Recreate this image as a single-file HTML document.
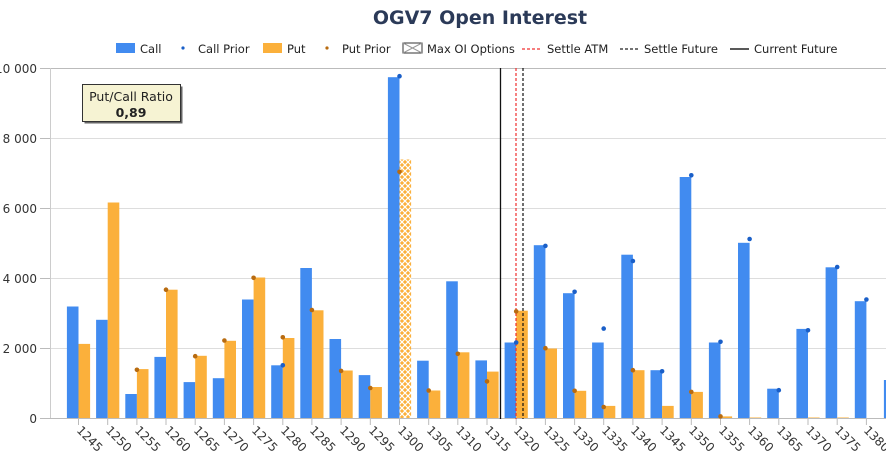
<!DOCTYPE html>
<html><head><meta charset="utf-8"><style>
html,body{margin:0;padding:0;background:#fff;}
svg{display:block;font-family:"DejaVu Sans","Liberation Sans",sans-serif;}
</style></head><body>
<svg width="886" height="460" viewBox="0 0 886 460" xmlns="http://www.w3.org/2000/svg">
<defs>
<pattern id="hatch" width="6" height="6" patternUnits="userSpaceOnUse">
<rect width="6" height="6" fill="#fbb03b"/>
<path d="M0,0L6,6M6,0L0,6" stroke="#fff" stroke-width="1.2"/>
</pattern>
</defs>
<text x="480" y="24" text-anchor="middle" font-size="19" font-weight="bold" fill="#2b3a58">OGV7 Open Interest</text>
<g font-size="11.5" fill="#222">
<rect x="116" y="43" width="19" height="10" fill="#418bf0"/><text x="140" y="53">Call</text>
<circle cx="183" cy="48" r="1.6" fill="#1a5fc8"/><text x="198" y="53">Call Prior</text>
<rect x="263" y="43" width="19" height="10" fill="#fbb03b"/><text x="287" y="53">Put</text>
<circle cx="327" cy="48" r="1.6" fill="#b86b10"/><text x="342" y="53">Put Prior</text>
<rect x="403" y="43" width="19" height="10" fill="#fff" stroke="#333"/><path d="M403,43L422,53M422,43L403,53" stroke="#999"/><text x="427" y="53">Max OI Options</text>
<line x1="522" y1="49" x2="541" y2="49" stroke="#f03030" stroke-dasharray="3,2" stroke-width="1.2"/><text x="547" y="53">Settle ATM</text>
<line x1="620" y1="49" x2="638" y2="49" stroke="#222" stroke-dasharray="3,2" stroke-width="1.2"/><text x="644" y="53">Settle Future</text>
<line x1="730" y1="49" x2="749" y2="49" stroke="#222" stroke-width="1.4"/><text x="754" y="53">Current Future</text>
</g>
<g stroke="#ddd" stroke-width="1">
<line x1="50" y1="68.5" x2="886" y2="68.5" stroke="#bbb"/>
<line x1="50" y1="138.5" x2="886" y2="138.5"/>
<line x1="50" y1="208.5" x2="886" y2="208.5"/>
<line x1="50" y1="278.5" x2="886" y2="278.5"/>
<line x1="50" y1="348.5" x2="886" y2="348.5"/>
</g>
<line x1="50.5" y1="68" x2="50.5" y2="419" stroke="#ccc"/>
<g stroke="#bbb"><line x1="40" y1="68.5" x2="50" y2="68.5"/><line x1="40" y1="138.5" x2="50" y2="138.5"/><line x1="40" y1="208.5" x2="50" y2="208.5"/><line x1="40" y1="278.5" x2="50" y2="278.5"/><line x1="40" y1="348.5" x2="50" y2="348.5"/><line x1="40" y1="418.5" x2="50" y2="418.5"/></g>
<g font-size="12" fill="#333" text-anchor="end">
<text x="37" y="73">10 000</text><text x="37" y="143">8 000</text><text x="37" y="213">6 000</text><text x="37" y="283">4 000</text><text x="37" y="353">2 000</text><text x="37" y="423">0</text>
</g>
<g fill="#418bf0">
<rect x="66.9" y="306.5" width="11.6" height="112"/>
<rect x="96.1" y="319.8" width="11.6" height="98.7"/>
<rect x="125.3" y="394" width="11.6" height="24.5"/>
<rect x="154.4" y="356.9" width="11.6" height="61.6"/>
<rect x="183.6" y="382.1" width="11.6" height="36.4"/>
<rect x="212.8" y="378.2" width="11.6" height="40.3"/>
<rect x="242" y="299.5" width="11.6" height="119"/>
<rect x="271.2" y="365.3" width="11.6" height="53.2"/>
<rect x="300.3" y="268" width="11.6" height="150.5"/>
<rect x="329.5" y="339" width="11.6" height="79.5"/>
<rect x="358.7" y="375.1" width="11.6" height="43.4"/>
<rect x="387.9" y="77.2" width="11.6" height="341.3"/>
<rect x="417.1" y="360.7" width="11.6" height="57.8"/>
<rect x="446.2" y="281.3" width="11.6" height="137.2"/>
<rect x="475.4" y="360.4" width="11.6" height="58.1"/>
<rect x="504.6" y="342.5" width="11.6" height="76"/>
<rect x="533.8" y="245.2" width="11.6" height="173.3"/>
<rect x="563" y="293.2" width="11.6" height="125.3"/>
<rect x="592.1" y="342.5" width="11.6" height="76"/>
<rect x="621.3" y="254.7" width="11.6" height="163.8"/>
<rect x="650.5" y="370.2" width="11.6" height="48.3"/>
<rect x="679.7" y="177" width="11.6" height="241.5"/>
<rect x="708.9" y="342.5" width="11.6" height="76"/>
<rect x="738" y="242.8" width="11.6" height="175.7"/>
<rect x="767.2" y="388.7" width="11.6" height="29.8"/>
<rect x="796.4" y="328.9" width="11.6" height="89.6"/>
<rect x="825.6" y="267.3" width="11.6" height="151.2"/>
<rect x="854.8" y="301.2" width="11.6" height="117.3"/>
<rect x="883.9" y="380" width="11.6" height="38.5"/>
</g>
<g fill="#fbb03b">
<rect x="78.5" y="343.9" width="11.6" height="74.6"/>
<rect x="107.7" y="202.5" width="11.6" height="216"/>
<rect x="136.9" y="369.1" width="11.6" height="49.4"/>
<rect x="166" y="289.7" width="11.6" height="128.8"/>
<rect x="195.2" y="355.8" width="11.6" height="62.7"/>
<rect x="224.4" y="340.8" width="11.6" height="77.7"/>
<rect x="253.6" y="277.5" width="11.6" height="141"/>
<rect x="282.8" y="338" width="11.6" height="80.5"/>
<rect x="311.9" y="310.3" width="11.6" height="108.2"/>
<rect x="341.1" y="370.5" width="11.6" height="48"/>
<rect x="370.3" y="387" width="11.6" height="31.5"/>
<rect x="399.5" y="159.5" width="11.6" height="259" fill="url(#hatch)"/>
<rect x="428.7" y="390.5" width="11.6" height="28"/>
<rect x="457.8" y="352.3" width="11.6" height="66.2"/>
<rect x="487" y="371.6" width="11.6" height="46.9"/>
<rect x="516.2" y="310.7" width="11.6" height="107.8"/>
<rect x="545.4" y="348.5" width="11.6" height="70"/>
<rect x="574.6" y="390.8" width="11.6" height="27.7"/>
<rect x="603.7" y="405.9" width="11.6" height="12.6"/>
<rect x="632.9" y="370.2" width="11.6" height="48.3"/>
<rect x="662.1" y="405.9" width="11.6" height="12.6"/>
<rect x="691.3" y="391.9" width="11.6" height="26.6"/>
<rect x="720.5" y="416.4" width="11.6" height="2.1"/>
<rect x="749.6" y="417.5" width="11.6" height="1"/>
<rect x="808" y="417.5" width="11.6" height="1"/>
<rect x="837.2" y="417.5" width="11.6" height="1"/>
</g>
<line x1="50" y1="418.5" x2="886" y2="418.5" stroke="#bbb"/>
<g stroke="#bbb">
<line x1="78.5" y1="419" x2="78.5" y2="425"/><line x1="107.7" y1="419" x2="107.7" y2="425"/><line x1="136.9" y1="419" x2="136.9" y2="425"/><line x1="166" y1="419" x2="166" y2="425"/><line x1="195.2" y1="419" x2="195.2" y2="425"/><line x1="224.4" y1="419" x2="224.4" y2="425"/><line x1="253.6" y1="419" x2="253.6" y2="425"/><line x1="282.8" y1="419" x2="282.8" y2="425"/><line x1="311.9" y1="419" x2="311.9" y2="425"/><line x1="341.1" y1="419" x2="341.1" y2="425"/><line x1="370.3" y1="419" x2="370.3" y2="425"/><line x1="399.5" y1="419" x2="399.5" y2="425"/><line x1="428.7" y1="419" x2="428.7" y2="425"/><line x1="457.8" y1="419" x2="457.8" y2="425"/><line x1="487" y1="419" x2="487" y2="425"/><line x1="516.2" y1="419" x2="516.2" y2="425"/><line x1="545.4" y1="419" x2="545.4" y2="425"/><line x1="574.6" y1="419" x2="574.6" y2="425"/><line x1="603.7" y1="419" x2="603.7" y2="425"/><line x1="632.9" y1="419" x2="632.9" y2="425"/><line x1="662.1" y1="419" x2="662.1" y2="425"/><line x1="691.3" y1="419" x2="691.3" y2="425"/><line x1="720.5" y1="419" x2="720.5" y2="425"/><line x1="749.6" y1="419" x2="749.6" y2="425"/><line x1="778.8" y1="419" x2="778.8" y2="425"/><line x1="808" y1="419" x2="808" y2="425"/><line x1="837.2" y1="419" x2="837.2" y2="425"/><line x1="866.4" y1="419" x2="866.4" y2="425"/>
</g>
<line x1="500.5" y1="68" x2="500.5" y2="419" stroke="#111" stroke-width="1.3"/>
<line x1="516" y1="68" x2="516" y2="419" stroke="#f03030" stroke-dasharray="3,2" stroke-width="1.2"/>
<line x1="523" y1="68" x2="523" y2="419" stroke="#111" stroke-dasharray="3,2" stroke-width="1.2"/>
<g fill="#1a5fc8">
<circle cx="282.8" cy="365.3" r="2.3"/><circle cx="399.5" cy="76.2" r="2.3"/><circle cx="516.2" cy="342.5" r="2.3"/><circle cx="545.4" cy="245.9" r="2.3"/><circle cx="574.6" cy="291.8" r="2.3"/><circle cx="603.7" cy="328.6" r="2.3"/><circle cx="632.9" cy="261" r="2.3"/><circle cx="662.1" cy="371.3" r="2.3"/><circle cx="691.3" cy="175.3" r="2.3"/><circle cx="720.5" cy="341.8" r="2.3"/><circle cx="749.6" cy="239" r="2.3"/><circle cx="778.8" cy="390.2" r="2.3"/><circle cx="808" cy="330.3" r="2.3"/><circle cx="837.2" cy="267" r="2.3"/><circle cx="866.4" cy="299.5" r="2.3"/>
</g>
<g fill="#b86b10">
<circle cx="136.9" cy="369.8" r="2.3"/><circle cx="166" cy="289.7" r="2.3"/><circle cx="195.2" cy="356.2" r="2.3"/><circle cx="224.4" cy="340.5" r="2.3"/><circle cx="253.6" cy="277.8" r="2.3"/><circle cx="282.8" cy="337.3" r="2.3"/><circle cx="311.9" cy="310" r="2.3"/><circle cx="341.1" cy="370.9" r="2.3"/><circle cx="370.3" cy="388" r="2.3"/><circle cx="399.5" cy="171.8" r="2.3"/><circle cx="428.7" cy="390.5" r="2.3"/><circle cx="457.8" cy="353.8" r="2.3"/><circle cx="487" cy="381.4" r="2.3"/><circle cx="516.2" cy="311.4" r="2.3"/><circle cx="545.4" cy="348.2" r="2.3"/><circle cx="574.6" cy="390.8" r="2.3"/><circle cx="603.7" cy="407" r="2.3"/><circle cx="632.9" cy="370.2" r="2.3"/><circle cx="691.3" cy="391.9" r="2.3"/><circle cx="720.5" cy="416.4" r="2.3"/>
</g>
<rect x="84.5" y="86.5" width="98" height="37" fill="#666"/>
<rect x="82.5" y="84.5" width="98" height="37" fill="#f6f3d3" stroke="#333"/>
<text x="131" y="101" text-anchor="middle" font-size="12.5" fill="#222">Put/Call Ratio</text>
<text x="131" y="117" text-anchor="middle" font-size="12.5" font-weight="bold" fill="#222">0,89</text>
<g font-size="12" fill="#333">
<text transform="translate(76,431) rotate(45)">1245</text>
<text transform="translate(105,431) rotate(45)">1250</text>
<text transform="translate(134,431) rotate(45)">1255</text>
<text transform="translate(164,431) rotate(45)">1260</text>
<text transform="translate(193,431) rotate(45)">1265</text>
<text transform="translate(222,431) rotate(45)">1270</text>
<text transform="translate(251,431) rotate(45)">1275</text>
<text transform="translate(280,431) rotate(45)">1280</text>
<text transform="translate(309,431) rotate(45)">1285</text>
<text transform="translate(339,431) rotate(45)">1290</text>
<text transform="translate(368,431) rotate(45)">1295</text>
<text transform="translate(397,431) rotate(45)">1300</text>
<text transform="translate(426,431) rotate(45)">1305</text>
<text transform="translate(455,431) rotate(45)">1310</text>
<text transform="translate(484,431) rotate(45)">1315</text>
<text transform="translate(513,431) rotate(45)">1320</text>
<text transform="translate(543,431) rotate(45)">1325</text>
<text transform="translate(572,431) rotate(45)">1330</text>
<text transform="translate(601,431) rotate(45)">1335</text>
<text transform="translate(630,431) rotate(45)">1340</text>
<text transform="translate(659,431) rotate(45)">1345</text>
<text transform="translate(688,431) rotate(45)">1350</text>
<text transform="translate(718,431) rotate(45)">1355</text>
<text transform="translate(747,431) rotate(45)">1360</text>
<text transform="translate(776,431) rotate(45)">1365</text>
<text transform="translate(805,431) rotate(45)">1370</text>
<text transform="translate(834,431) rotate(45)">1375</text>
<text transform="translate(863,431) rotate(45)">1380</text>
</g>
</svg>
</body></html>
